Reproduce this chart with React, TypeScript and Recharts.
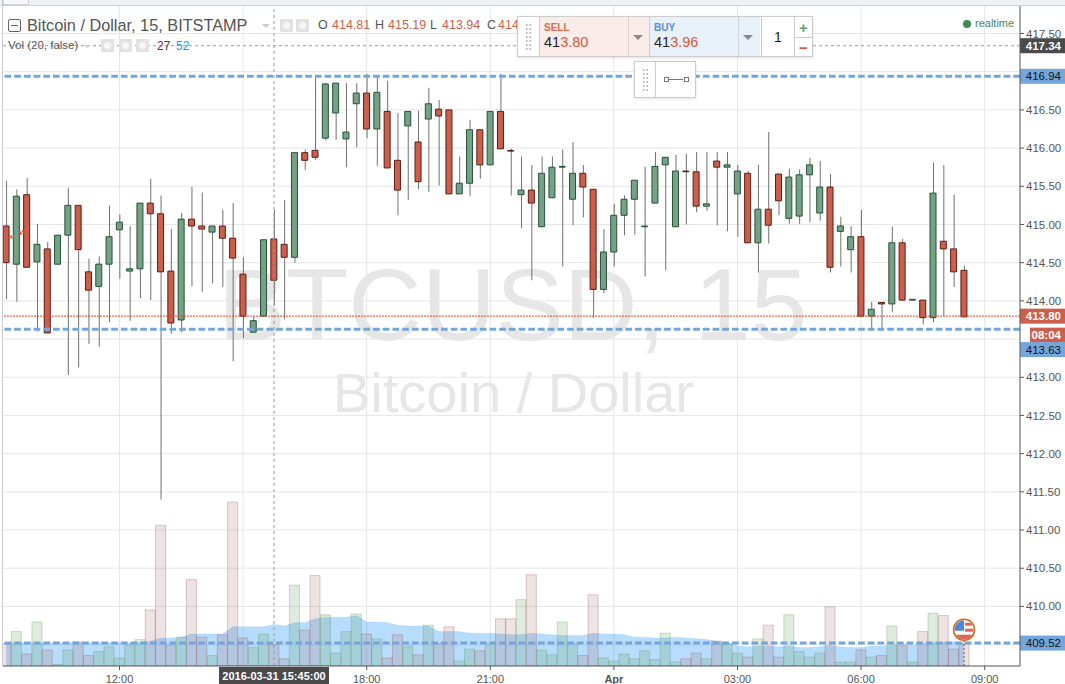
import {
  Area,
  Bar,
  CartesianGrid,
  Cell,
  ComposedChart,
  ReferenceDot,
  ReferenceLine,
  XAxis,
  YAxis,
} from "recharts"

// 15 minute bars, first one is 09:15 on 2016-03-31
const opens = [
  414.98, 414.48, 415.39, 414.51, 414.68, 414.48, 414.86, 415.25, 414.38, 414.19, 414.48, 414.93,
  414.39, 414.42, 415.28, 415.14, 414.39, 413.75, 415.07, 414.98, 414.9, 414.98, 414.82, 414.35,
  413.59, 413.8, 414.81, 414.74, 414.57, 415.94, 415.97, 416.13, 416.46, 416.12, 416.58, 416.72,
  416.25, 416.48, 415.84, 416.29, 416.08, 416.38, 416.51, 416.5, 415.4, 415.54, 416.24, 415.78,
  416.48, 415.97, 415.39, 415.45, 414.97, 415.35, 415.75, 415.33, 415.67, 415.46, 414.15, 414.64,
  415.12, 415.33, 414.97, 415.28, 415.78, 414.97, 415.7, 415.69, 415.24, 415.83, 415.75, 415.4,
  415.67, 414.76, 415.2, 415.66, 415.08, 415.11, 415.65, 415.15, 415.49, 414.91, 414.67, 414.84,
  413.8, 413.98, 413.96, 414.76, 414.01, 414.01, 413.78, 414.78, 414.68, 414.4,
]
const closes = [
  414.5, 415.37, 414.44, 414.74, 413.58, 414.86, 415.25, 414.67, 414.14, 414.48, 414.84, 415.03,
  414.42, 415.28, 415.14, 414.38, 413.71, 415.07, 414.98, 414.94, 414.98, 414.82, 414.56, 413.8,
  413.74, 414.8, 414.27, 414.57, 415.94, 415.84, 415.88, 416.84, 416.85, 416.21, 416.72, 416.25,
  416.73, 415.74, 415.45, 416.48, 415.56, 416.58, 416.42, 415.4, 415.54, 416.24, 415.78, 416.48,
  415.99, 415.96, 415.45, 415.28, 415.67, 415.75, 415.76, 415.67, 415.49, 414.15, 414.64, 415.12,
  415.33, 415.58, 414.98, 415.76, 415.88, 415.7, 415.69, 415.24, 415.27, 415.75, 415.78, 415.7,
  414.76, 415.2, 414.99, 415.31, 415.62, 415.65, 415.78, 415.49, 414.44, 414.98, 414.84, 413.8,
  413.89, 413.96, 414.76, 414.01, 414.02, 413.78, 415.41, 414.68, 414.38, 413.79,
]
const highs = [
  415.57, 415.46, 415.61, 415.01, 414.77, 414.86, 415.48, 415.25, 414.55, 414.58, 415.25, 415.13,
  414.98, 415.28, 415.6, 415.38, 414.94, 415.15, 415.49, 415.42, 414.98, 415.19, 415.28, 414.57,
  413.8, 414.8, 415.19, 415.32, 415.94, 415.98, 416.92, 416.85, 416.85, 416.85, 416.85, 416.97,
  416.94, 416.88, 416.46, 416.48, 416.49, 416.79, 416.63, 416.5, 415.89, 416.37, 416.24, 416.48,
  416.97, 415.99, 415.89, 415.78, 415.89, 415.89, 415.98, 416.08, 415.78, 415.46, 414.94, 415.27,
  415.38, 415.58, 415.76, 415.95, 415.88, 415.91, 415.93, 415.95, 415.95, 415.95, 415.95, 415.78,
  415.7, 415.78, 416.21, 415.66, 415.73, 415.72, 415.87, 415.83, 415.66, 415.1, 414.98, 415.19,
  413.99, 413.98, 414.97, 414.81, 414.02, 414.01, 415.81, 415.78, 415.39, 414.46,
]
const lows = [
  414.02, 413.99, 414.44, 413.6, 413.58, 414.48, 413.03, 413.13, 413.44, 413.4, 413.72, 414.29,
  413.74, 414.03, 414.01, 411.4, 413.57, 413.59, 414.19, 414.12, 414.23, 414.18, 413.21, 413.51,
  413.59, 413.8, 413.94, 413.76, 414.5, 415.71, 415.84, 416.1, 416.11, 415.75, 416.01, 416.13,
  415.77, 415.74, 415.12, 415.32, 415.46, 415.43, 415.51, 415.4, 415.4, 415.37, 415.6, 415.78,
  415.99, 415.38, 414.95, 414.27, 414.97, 415.35, 414.45, 414.99, 415.09, 413.78, 414.1, 414.45,
  414.86, 414.87, 414.32, 415.28, 414.4, 414.97, 415.0, 415.16, 415.18, 414.99, 414.91, 414.84,
  414.76, 414.37, 414.75, 415.12, 415.01, 415.01, 415.03, 415.05, 414.37, 414.45, 414.37, 413.8,
  413.61, 413.61, 413.85, 414.0, 414.0, 413.69, 413.72, 413.8, 414.18, 413.79,
]
const volumes = [
  28, 43, 15, 55, 20, 2, 20, 30, 13, 18, 24, 10,
  26, 33, 70, 176, 26, 36, 108, 36, 13, 39, 205, 35,
  23, 40, 27, 9, 101, 45, 113, 64, 16, 43, 65, 40,
  34, 10, 39, 25, 14, 51, 28, 49, 6, 21, 19, 28,
  59, 59, 83, 114, 20, 14, 55, 28, 13, 89, 10, 6,
  15, 9, 19, 8, 41, 5, 9, 16, 9, 31, 28, 16,
  11, 34, 51, 11, 64, 18, 11, 16, 74, 5, 5, 20,
  11, 13, 50, 25, 5, 43, 66, 63, 21, 28,
]
const volumeMa = [
  29, 29, 29, 29, 29, 29, 29, 29, 29, 29, 29, 29,
  29, 29, 31, 35, 35, 36, 40, 40, 40, 40, 49, 49,
  49, 49, 52, 50, 54, 54, 59, 61, 61, 61, 63, 55,
  55, 54, 51, 50, 50, 50, 43, 43, 43, 41, 41, 41,
  40, 39, 39, 41, 40, 39, 38, 38, 38, 41, 40, 40,
  39, 36, 36, 35, 35, 36, 35, 34, 33, 31, 29, 25,
  24, 25, 25, 24, 25, 23, 23, 24, 26, 24, 23, 23,
  25, 25, 26, 28, 26, 28, 29, 30, 30, 29,
]

// grid keeps every step, the labels under the price tags are left out
const gridPrices = [
  417.5, 417, 416.5, 416, 415.5, 415, 414.5, 414, 413.5, 413, 412.5, 412, 411.5, 411, 410.5, 410, 409.5,
]
const priceTicks = [417.5, 416.5, 416, 415.5, 415, 414.5, 414, 413, 412.5, 412, 411.5, 411, 410.5, 410]
const gridTimes = [11, 23, 35, 47, 59, 71, 83, 95]
const timeTicks = [11, 35, 47, 59, 71, 83, 95]
const timeLabels = ["12:00", "18:00", "21:00", "Apr", "03:00", "06:00", "09:00"]
const levelLines = [416.94, 413.63, 409.52]

const rows = closes.map((close, i) => ({
  i,
  wick: [lows[i], highs[i]],
  body: [Math.min(opens[i], close), Math.max(opens[i], close)],
  up: close >= opens[i],
  volume: volumes[i],
  ma: volumeMa[i],
}))

const SANS = "'Liberation Sans', Arial, sans-serif"
const X_DOMAIN = [-0.311, 98.43]
const Y_DOMAIN = [409.22, 417.86]
const BLUE = "#74a6dc"
const RED = "#cb5f4b"
const AXIS = "#555555"

function TimeTick({ x, y, payload }: any) {
  const label = timeLabels[timeTicks.indexOf(payload.value)]
  return (
    <text
      x={x}
      y={y + 11}
      textAnchor="middle"
      fontFamily={SANS}
      fontSize={11}
      fontWeight={label === "Apr" ? 700 : 400}
      fill={AXIS}
    >
      {label}
    </text>
  )
}

function PriceTag({ viewBox, text, fill, color, dy = 0, left = 1020, bold = false }: any) {
  const cy = viewBox.y + dy
  return (
    <g>
      <rect x={left} y={cy - 7.5} width={1065 - left} height={15} fill={fill} />
      <text
        x={1061}
        y={cy + 4}
        textAnchor="end"
        fontFamily={SANS}
        fontSize={11.5}
        fontWeight={bold ? 700 : 400}
        fill={color}
      >
        {text}
      </text>
    </g>
  )
}

function TimeTag({ viewBox }: any) {
  return (
    <g>
      <rect x={219} y={667} width={110} height={17} fill="#4a4a4a" />
      <text x={viewBox.x} y={680} textAnchor="middle" fontFamily={SANS} fontSize={11} fontWeight={700} fill="#fff">
        2016-03-31 15:45:00
      </text>
    </g>
  )
}

function EventFlag({ cx, cy }: any) {
  return (
    <g>
      <clipPath id="flag-clip">
        <circle cx={cx} cy={cy} r={9.5} />
      </clipPath>
      <circle cx={cx} cy={cy} r={10.5} fill="#fff" stroke="#c8701e" strokeWidth={1.6} />
      <g clipPath="url(#flag-clip)">
        <rect x={cx + 1} y={cy - 7} width={10} height={3} fill="#e0635a" />
        <rect x={cx + 1} y={cy - 1} width={10} height={3} fill="#e0635a" />
        <rect x={cx - 10} y={cy + 5} width={20} height={5} fill="#e0635a" />
        <rect x={cx - 10} y={cy - 10} width={10} height={11} fill="#4f86d9" />
      </g>
    </g>
  )
}

function IconBox({ x, y, size = 13 }: { x: number; y: number; size?: number }) {
  return (
    <div style={{ position: "absolute", left: x, top: y, width: size, height: size, background: "#e2e2e2" }}>
      <div
        style={{
          position: "absolute",
          left: 3,
          top: 3,
          width: size - 6,
          height: size - 6,
          borderRadius: "50%",
          background: "#f6f6f6",
        }}
      />
    </div>
  )
}

function Txt({ x, y, size, color, bold, children }: any) {
  return (
    <span
      style={{
        position: "absolute",
        left: x,
        top: y,
        fontSize: size,
        lineHeight: "1",
        color,
        fontWeight: bold ? 700 : 400,
        whiteSpace: "nowrap",
      }}
    >
      {children}
    </span>
  )
}

function Header() {
  return (
    <>
      <div style={{ position: "absolute", left: 0, top: 0, width: 1065, height: 5, background: "#eff1f6", borderBottom: "1px solid #cfd2da" }} />
      <div style={{ position: "absolute", left: 3, top: 0, width: 24, height: 4, background: "#f8f8fa", border: "1px solid #cfd2da", borderTop: "none" }} />
      <div style={{ position: "absolute", left: 2, top: 0, width: 1, height: 666, background: "#c9ccd6" }} />
      <div style={{ position: "absolute", left: 8, top: 19, width: 11, height: 11, border: "1px solid #666", borderRadius: 2 }}>
        <div style={{ position: "absolute", left: 2, top: 5, width: 7, height: 1, background: "#666" }} />
      </div>
      <Txt x={27} y={17} size={16.3} color="#555">Bitcoin / Dollar, 15, BITSTAMP</Txt>
      <div style={{ position: "absolute", left: 262, top: 24, width: 0, height: 0, borderLeft: "4px solid transparent", borderRight: "4px solid transparent", borderTop: "4px solid #ccc" }} />
      <IconBox x={280} y={19} />
      <IconBox x={296} y={19} />
      <Txt x={318} y={19} size={12.5} color="#555">O</Txt>
      <Txt x={332} y={19} size={12.5} color={RED}>414.81</Txt>
      <Txt x={375} y={19} size={12.5} color="#555">H</Txt>
      <Txt x={388} y={19} size={12.5} color={RED}>415.19</Txt>
      <Txt x={430} y={19} size={12.5} color="#555">L</Txt>
      <Txt x={442} y={19} size={12.5} color={RED}>413.94</Txt>
      <Txt x={487} y={19} size={12.5} color="#555">C</Txt>
      <Txt x={498} y={19} size={12.5} color={RED}>414</Txt>
      <Txt x={8} y={40} size={11.5} color="#555">Vol (20, false)</Txt>
      <div style={{ position: "absolute", left: 84, top: 45, width: 0, height: 0, borderLeft: "3px solid transparent", borderRight: "3px solid transparent", borderTop: "3px solid #ccc" }} />
      <IconBox x={101} y={39} />
      <IconBox x={119} y={39} />
      <IconBox x={136} y={39} />
      <Txt x={157} y={40} size={12} color="#7a2e2e">27</Txt>
      <Txt x={176} y={40} size={12} color="#2196f3">52</Txt>
      <div style={{ position: "absolute", left: 963, top: 20, width: 8, height: 8, borderRadius: "50%", background: "#3d8b5e" }} />
      <Txt x={975} y={18} size={11} color="#3d8b5e">realtime</Txt>
    </>
  )
}

function DragDots({ x, y, rows: n }: { x: number; y: number; rows: number }) {
  return (
    <div style={{ position: "absolute", left: x, top: y, width: 7, height: n * 4, backgroundImage: "radial-gradient(#bbb 1.1px, transparent 1.2px)", backgroundSize: "3.5px 4px" }} />
  )
}

function TradePanel() {
  return (
    <>
      <div style={{ position: "absolute", left: 517, top: 16, width: 294, height: 39, background: "#fff", border: "1px solid #ccc", boxShadow: "0 1px 3px rgba(0,0,0,.12)", fontFamily: SANS }}>
        <DragDots x={7} y={6} rows={7} />
        <div style={{ position: "absolute", left: 21, top: 0, width: 109, height: 39, background: "#f9ece9", borderLeft: "1px solid #ccc" }} />
        <div style={{ position: "absolute", left: 131, top: 0, width: 110, height: 39, background: "#e8f0f9", borderLeft: "1px solid #ccc" }} />
        <div style={{ position: "absolute", left: 243, top: 0, width: 1, height: 39, background: "#ccc" }} />
        <div style={{ position: "absolute", left: 276, top: 0, width: 1, height: 39, background: "#ccc" }} />
        <div style={{ position: "absolute", left: 276, top: 20, width: 18, height: 1, background: "#ccc" }} />
        <div style={{ position: "absolute", left: 110, top: 0, width: 0, height: 39, borderLeft: "1px dotted #bbb" }} />
        <div style={{ position: "absolute", left: 220, top: 0, width: 0, height: 39, borderLeft: "1px dotted #bbb" }} />
        <div style={{ position: "absolute", left: 115, top: 18, width: 0, height: 0, borderLeft: "5px solid transparent", borderRight: "5px solid transparent", borderTop: "5px solid #888" }} />
        <div style={{ position: "absolute", left: 225, top: 18, width: 0, height: 0, borderLeft: "5px solid transparent", borderRight: "5px solid transparent", borderTop: "5px solid #888" }} />
        <Txt x={26} y={6} size={10} color="#d86a50" bold>SELL</Txt>
        <Txt x={26} y={18} size={14.5} color="#222">41<span style={{ color: "#d8583c" }}>3.80</span></Txt>
        <Txt x={136} y={6} size={10} color="#5b8fcf" bold>BUY</Txt>
        <Txt x={136} y={18} size={14.5} color="#222">41<span style={{ color: "#d8583c" }}>3.96</span></Txt>
        <Txt x={256} y={13} size={14} color="#222">1</Txt>
        <Txt x={281} y={3} size={15} color="#5aa56f" bold>+</Txt>
        <Txt x={281} y={23} size={15} color="#d8583c" bold>−</Txt>
      </div>
      <div style={{ position: "absolute", left: 634, top: 61, width: 60, height: 35, background: "#fff", border: "1px solid #ccc", boxShadow: "0 1px 3px rgba(0,0,0,.12)" }}>
        <DragDots x={7} y={6} rows={6} />
        <div style={{ position: "absolute", left: 20, top: 0, width: 1, height: 35, background: "#ccc" }} />
        <div style={{ position: "absolute", left: 29, top: 15, width: 3, height: 3, border: "1px solid #777" }} />
        <div style={{ position: "absolute", left: 34, top: 17, width: 14, height: 1, background: "#777" }} />
        <div style={{ position: "absolute", left: 49, top: 15, width: 3, height: 3, border: "1px solid #777" }} />
      </div>
    </>
  )
}

export default function App() {
  return (
    <div style={{ position: "absolute", left: 0, top: 0, width: 1065, height: 684, overflow: "hidden", background: "#fff", fontFamily: SANS }}>
      <Txt x={218} y={254} size={102} color="#e6e6e6">BTCUSD, 15</Txt>
      <Txt x={333} y={365} size={56} color="#e6e6e6">Bitcoin / Dollar</Txt>
      <div style={{ position: "absolute", left: 0, top: 0 }}>
        <ComposedChart width={1065} height={684} data={rows} margin={{ top: 6, right: 0, bottom: 0, left: 3 }}>
          <CartesianGrid
            stroke="#e6e6e6"
            strokeWidth={1}
            horizontalValues={gridPrices}
            verticalValues={gridTimes}
          />
          <XAxis
            dataKey="i"
            type="number"
            domain={X_DOMAIN}
            ticks={timeTicks}
            height={18}
            allowDataOverflow
            stroke={AXIS}
            tickSize={4}
            tick={<TimeTick />}
            interval={0}
          />
          <XAxis xAxisId="wick" dataKey="i" type="number" domain={X_DOMAIN} hide allowDataOverflow />
          <XAxis xAxisId="body" dataKey="i" type="number" domain={X_DOMAIN} hide allowDataOverflow />
          <YAxis
            orientation="right"
            domain={Y_DOMAIN}
            ticks={priceTicks}
            width={45}
            allowDataOverflow
            stroke={AXIS}
            tickSize={4}
            interval={0}
            tickFormatter={(v: number) => v.toFixed(2)}
            tick={{ fontSize: 11.5, fontFamily: SANS, fill: AXIS }}
          />
          <YAxis yAxisId="vol" domain={[0, 825]} hide allowDataOverflow />

          <Bar dataKey="volume" yAxisId="vol" barSize={10} isAnimationActive={false}>
            {rows.map((r) => (
              <Cell
                key={r.i}
                fill={r.up ? "#5f9a60" : "#9a5a5a"}
                fillOpacity={r.up ? 0.2 : 0.17}
                stroke={r.up ? "#5f9a60" : "#9a5a5a"}
                strokeOpacity={0.32}
              />
            ))}
          </Bar>
          <Area
            dataKey="ma"
            yAxisId="vol"
            type="linear"
            stroke="#2196f3"
            strokeOpacity={0.12}
            fill="#148cf5"
            fillOpacity={0.3}
            isAnimationActive={false}
          />

          <Bar dataKey="wick" xAxisId="wick" barSize={1} fill="#707070" isAnimationActive={false} />
          <Bar dataKey="body" xAxisId="body" barSize={6} isAnimationActive={false}>
            {rows.map((r) => (
              <Cell key={r.i} fill={r.up ? "#75a284" : RED} stroke={r.up ? "#26503a" : "#5b1d15"} strokeWidth={1} />
            ))}
          </Bar>

          <ReferenceLine
            segment={[{ x: 0.4, y: 414.83 }, { x: 0.75, y: 414.85 }]}
            stroke="#f05030"
            strokeWidth={3}
            strokeDasharray="2 1"
          />
          <ReferenceLine
            segment={[{ x: 1.3, y: 414.88 }, { x: 1.7, y: 414.91 }]}
            stroke="#f05030"
            strokeWidth={3}
            strokeDasharray="2 1"
          />
          <ReferenceLine
            y={417.34}
            stroke="#999"
            strokeDasharray="3 3"
            label={<PriceTag text="417.34" fill="#4a4a4a" color="#fff" bold />}
          />
          <ReferenceLine
            y={413.8}
            stroke="#d9472b"
            strokeDasharray="2 1"
            label={<PriceTag text="413.80" fill={RED} color="#fff" bold />}
          />
          <ReferenceLine
            y={413.8}
            strokeOpacity={0}
            label={<PriceTag text="08:04" fill={RED} color="#fff" dy={19} left={1030} bold />}
          />
          {levelLines.map((level) => (
            <ReferenceLine
              key={level}
              y={level}
              stroke={BLUE}
              strokeWidth={3}
              strokeDasharray="6.7 3"
              label={
                <PriceTag
                  text={level.toFixed(2)}
                  fill={BLUE}
                  color="#111"
                  dy={level === 413.63 ? 20.5 : 0}
                />
              }
            />
          ))}
          <ReferenceLine x={26} stroke="#999" strokeDasharray="3 3" label={<TimeTag />} />
          <ReferenceLine
            segment={[{ x: 93, y: 409.22 }, { x: 93, y: 409.56 }]}
            stroke="#999"
            strokeWidth={2}
            strokeDasharray="2 2"
          />
          <ReferenceDot x={93} y={409.695} r={10} shape={<EventFlag />} />
        </ComposedChart>
      </div>
      <Header />
      <TradePanel />
    </div>
  )
}
